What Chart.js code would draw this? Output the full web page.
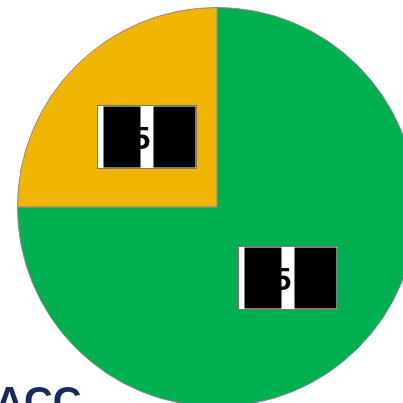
<!DOCTYPE html>
<html>
<head>
<meta charset="utf-8">
<script src="https://cdn.jsdelivr.net/npm/chart.js@4"></script>
<style>
html,body{margin:0;padding:0;width:403px;height:403px;overflow:hidden;background:#fff;}
#wrap{position:absolute;left:17px;top:7px;width:400px;height:400px;}
#ttl{position:absolute;left:-5px;top:379px;font:bold 40px "Liberation Sans",Arial,sans-serif;color:#1b2a5e;white-space:nowrap;}
</style>
</head>
<body>
<div id="wrap"><canvas id="myChart"></canvas></div>
<div id="ttl">ACC</div>
<script>
var labels = ["Green","Orange"]
var values = [75,25]
var colors = ["#00AF50","#F0B500"]

// label boxes with the black cover bars
var boxLabels = {
    id: "boxLabels",
    afterDatasetsDraw: function(chart){
        var ctx = chart.ctx
        var meta = chart.getDatasetMeta(0)
        for(var i=0;i<meta.data.length;i++){
            var p = meta.data[i].tooltipPosition()
            var w = 99, h = 63
            var x = Math.round(p.x - w/2) + 0.5
            var y = Math.round(p.y - h/2) + 0.5
            ctx.save()
            ctx.fillStyle = "#fff"
            ctx.fillRect(x,y,w,h)
            ctx.strokeStyle = "#80766c"
            ctx.lineWidth = 1
            ctx.strokeRect(x,y,w,h)
            ctx.fillStyle = "#000"
            ctx.font = "bold 32px 'Liberation Sans', Arial, sans-serif"
            ctx.textAlign = "center"
            ctx.textBaseline = "middle"
            ctx.fillText(String(values[i]), x + 35, y + h/2 + 3)
            ctx.fillRect(x+6, y+1, 37, h-2)
            ctx.fillRect(x+56, y+1, 42, h-2)
            ctx.restore()
        }
    }
}

new Chart("myChart",{
    type: "pie",
    data: {
        labels: labels,
        datasets: [{
            backgroundColor: colors,
            borderColor: "#8a8a8a",
            borderWidth: 1,
            data: values
        }]
    },
    options: {
        responsive: true,
        maintainAspectRatio: false,
        animation: false,
        layout: {padding: 0},
        plugins: {
            legend: {display: false},
            tooltip: {enabled: false}
        }
    },
    plugins: [boxLabels]
});
</script>
</body>
</html>
